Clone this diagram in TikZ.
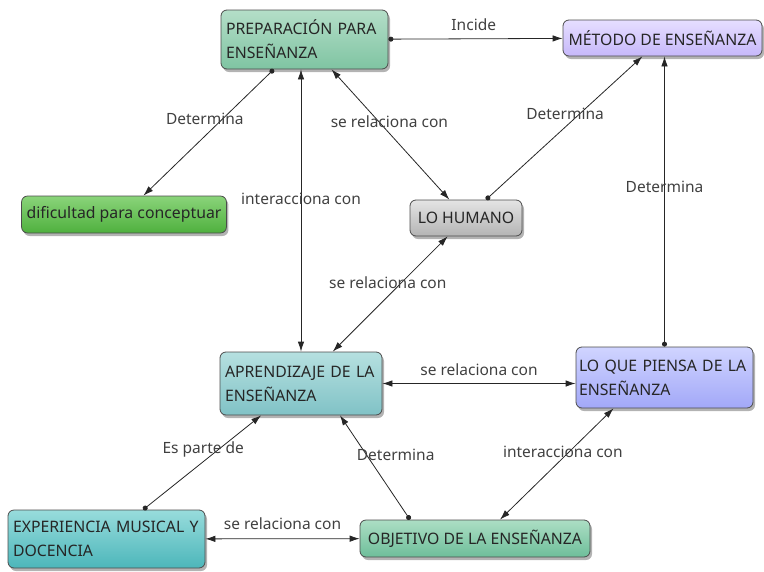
\documentclass[tikz,border=0pt]{standalone}
\usepackage{fontspec}
\setmainfont{Noto Sans}
\usetikzlibrary{arrows.meta,shadows}

\definecolor{prepT}{HTML}{B4DEC8}
\definecolor{prepB}{HTML}{7FC4A2}
\definecolor{metT}{HTML}{E6DEFF}
\definecolor{metB}{HTML}{C6B8FA}
\definecolor{difT}{HTML}{8AD47A}
\definecolor{difB}{HTML}{4FB03E}
\definecolor{humT}{HTML}{E4E4E4}
\definecolor{humB}{HTML}{B4B4B4}
\definecolor{aprT}{HTML}{B6E0E0}
\definecolor{aprB}{HTML}{80C2C6}
\definecolor{pieT}{HTML}{D0D4FF}
\definecolor{pieB}{HTML}{A2A8F8}
\definecolor{expT}{HTML}{98DCDC}
\definecolor{expB}{HTML}{4CB6BA}
\definecolor{objT}{HTML}{ACDEC4}
\definecolor{objB}{HTML}{6EBE9A}

\tikzset{
  concept/.style={draw=black!70, line width=0.8pt, rounded corners=6pt,
    align=left, inner xsep=5pt, inner ysep=3pt, text=black!85,
    font=\fontsize{15.8}{24}\selectfont,
    drop shadow={shadow xshift=2pt, shadow yshift=-3pt, opacity=0.6}},
  lbl/.style={text=black!75, font=\fontsize{15.5}{17}\selectfont, inner sep=1pt},
  dotto/.style={draw=black!85, line width=0.8pt,
    {Circle[length=5pt]}-{Latex[length=10pt,width=6.5pt]}},
  twoway/.style={draw=black!85, line width=0.8pt,
    {Latex[length=10pt,width=6.5pt]}-{Latex[length=10pt,width=6.5pt]}},
}

\begin{document}
\begin{tikzpicture}
    \def\x{1pt}
    \def\y{-1pt}
    \useasboundingbox (0*\x, 0*\y) rectangle (764*\x, 571*\y);
    \node [concept, top color=prepT, bottom color=prepB, text width=157pt, minimum height=59pt]
      (A0_0) at (304.5*\x, 39.5*\y) {PREPARACIÓN PARA\\ENSEÑANZA};
    \node [concept, top color=metT, bottom color=metB, minimum width=199pt, minimum height=36pt]
      (A0_1) at (662.5*\x, 38*\y) {MÉTODO DE ENSEÑANZA};
    \node [concept, top color=difT, bottom color=difB, minimum width=204pt, minimum height=37pt]
      (A1_0) at (124*\x, 214.5*\y) {dificultad para conceptuar};
    \node [concept, top color=humT, bottom color=humB, minimum width=112pt, minimum height=36pt]
      (A1_1) at (466*\x, 218*\y) {LO HUMANO};
    \node [concept, top color=aprT, bottom color=aprB, text width=152pt, minimum height=63pt]
      (A2_0) at (301*\x, 383.5*\y) {APRENDIZAJE DE LA\\ENSEÑANZA};
    \node [concept, top color=pieT, bottom color=pieB, inner xsep=3pt, text width=171pt, minimum height=61pt]
      (A2_1) at (664.5*\x, 377.5*\y) {LO QUE PIENSA DE LA\\ENSEÑANZA};
    \node [concept, top color=expT, bottom color=expB, text width=187pt, minimum height=58pt]
      (A3_0) at (106.5*\x, 539*\y) {EXPERIENCIA MUSICAL Y\\DOCENCIA};
    \node [concept, top color=objT, bottom color=objB, minimum width=230pt, minimum height=37pt]
      (A3_1) at (475*\x, 538.5*\y) {OBJETIVO DE LA ENSEÑANZA};
    \path (A0_0) edge [dotto] node [lbl, pos=0.49, yshift=14pt] {Incide} (A0_1);
    \path (A0_0) edge [dotto] node [lbl, pos=0.46, xshift=-9pt, yshift=9pt] {Determina} (A1_0);
    \path (A0_0) edge [twoway] node [lbl, pos=0.44, xshift=6pt, yshift=5pt] {se relaciona con} (A1_1);
    \path (A0_0.south -| A2_0.north) edge [twoway] node [lbl, pos=0.46] {interacciona con} (A2_0.north);
    \path (A1_1) edge [dotto] node [lbl, pos=0.55, xshift=-7pt, yshift=7pt] {Determina} (A0_1);
    \path (A2_1.north) edge [dotto] node [lbl, pos=0.55] {Determina} (A2_1.north |- A0_1.south);
    \path (A1_1) edge [twoway] node [lbl, pos=0.46, xshift=-7pt, yshift=7pt] {se relaciona con} (A2_0);
    \path (A2_0.east) edge [twoway] node [lbl, pos=0.5, yshift=14pt] {se relaciona con} (A2_0.east -| A2_1.west);
    \path (A3_0) edge [dotto] node [lbl, pos=0.56, xshift=-6pt, yshift=7.5pt] {Es parte de} (A2_0);
    \path ([xshift=-65pt]A3_1.north) edge [dotto] node [lbl, pos=0.49, xshift=20pt, yshift=13.5pt] {Determina} ([xshift=39pt]A2_0.south);
    \path ([xshift=25pt]A3_1.north) edge [twoway] node [lbl, pos=0.58, xshift=-3pt, yshift=3pt] {interacciona con} ([xshift=-51pt]A2_1.south);
    \path (A3_0) edge [twoway] node [lbl, pos=0.5, yshift=15pt] {se relaciona con} (A3_1);
\end{tikzpicture}
\end{document}
